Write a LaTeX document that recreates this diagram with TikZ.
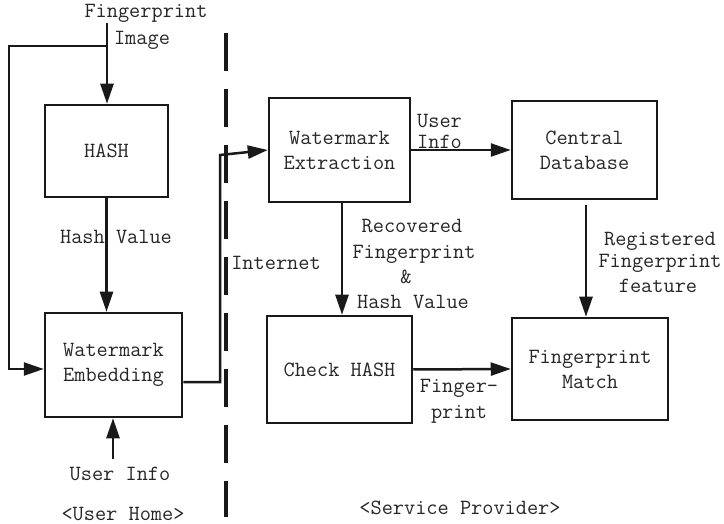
\documentclass[tikz,border=0pt]{standalone}
\usetikzlibrary{arrows.meta,calc}
\begin{document}
\begin{tikzpicture}[x=1pt,y=-1pt,
  every node/.style={font=\ttfamily\fontsize{21.7}{25}\selectfont, text=black!85},
  blk/.style={draw=black!90, line width=2.5pt, inner sep=0pt, align=center},
  lbl/.style={inner sep=0pt, anchor=base},
  arr/.style={line width=2.5pt, draw=black!90, -{Triangle[length=20pt,width=13pt]}},
  conn/.style={line width=2.5pt, draw=black!90},
  divider/.style={line width=4pt, draw=black!90, dash pattern=on 38pt off 18pt}]
\useasboundingbox (0,0) rectangle (724,524);

% boxes
\node[blk, minimum width=123pt, minimum height=92pt]  (hash) at (106.5,151) {HASH};
\node[blk, minimum width=137pt, minimum height=104pt] (we)   at (113.5,365) {Watermark\\Embedding};
\node[blk, minimum width=141pt, minimum height=104pt] (wx)   at (339.5,150) {Watermark\\Extraction};
\node[blk, minimum width=145pt, minimum height=98pt]  (db)   at (584.5,150) {Central\\Database};
\node[blk, minimum width=145pt, minimum height=107pt] (ch)   at (339.5,369.5) {Check HASH};
\node[blk, minimum width=156pt, minimum height=102pt] (fm)   at (590,369) {Fingerprint\\Match};

% labels
\node[lbl] (lfp)  at (146,17.5) {Fingerprint};
\node[lbl] (limg) at (142,44.5) {Image};
\node[lbl] (lhv)  at (116,243.5) {Hash Value};
\node[lbl] (lui)  at (120,480.5) {User Info};
\node[lbl] (luh)  at (123,520.5) {<User Home>};
\node[lbl] (lnet) at (276,269.5) {Internet};
\node[lbl, anchor=base west] (luser) at (417,127.5) {User};
\node[lbl, anchor=base west] (linfo) at (417,148.5) {Info};
\node[lbl] (lrec) at (412,232.5) {Recovered};
\node[lbl] (lrfp) at (414,258.5) {Fingerprint};
\node[lbl] (lamp) at (406,283.5) {\&};
\node[lbl] (lrhv) at (413,308.5) {Hash Value};
\node[lbl] (lreg) at (660,245.5) {Registered};
\node[lbl] (lgfp) at (660,267.5) {Fingerprint};
\node[lbl] (lfea) at (658,292.5) {feature};
\node[lbl] (lfin) at (459,392.5) {Finger-};
\node[lbl] (lpri) at (459,418.5) {print};
\node[lbl] (lsp)  at (460,514.5) {<Service Provider>};

% coordinates
\coordinate (fpin) at (107,23);
\coordinate (br)   at (107,46);
\coordinate (c1)   at (9,46);
\coordinate (c2)   at (9,369);
\coordinate (uin)  at (113,459);
\coordinate (weout) at (182,382);
\coordinate (inet1) at (220,382);
\coordinate (inet2) at (220,155);
\coordinate (dtop) at (226,33);
\coordinate (dbot) at (226,517);

% connectors
\draw[arr] (fpin) -- (fpin |- hash.north);
\draw[arr] (br) -- (c1) -- (c2) -- (we.west |- c2);
\draw[arr] (hash.south) -- (hash.south |- we.north);
\draw[arr] (uin) -- (uin |- we.south);
\draw[arr] (we.east |- weout) -- (inet1) -- (inet2) -- (wx.west);
\draw[arr] (wx.east) -- (db.west);
\draw[arr] ([xshift=2.5pt]wx.south) -- ([xshift=2.5pt]ch.north);
\draw[arr] ([xshift=1.5pt,yshift=-5pt]db.south) -- ([xshift=-4pt]fm.north);
\draw[arr] (ch.east) -- (fm.west);

% divider
\draw[divider] (dtop) -- (dbot);
\end{tikzpicture}
\end{document}
